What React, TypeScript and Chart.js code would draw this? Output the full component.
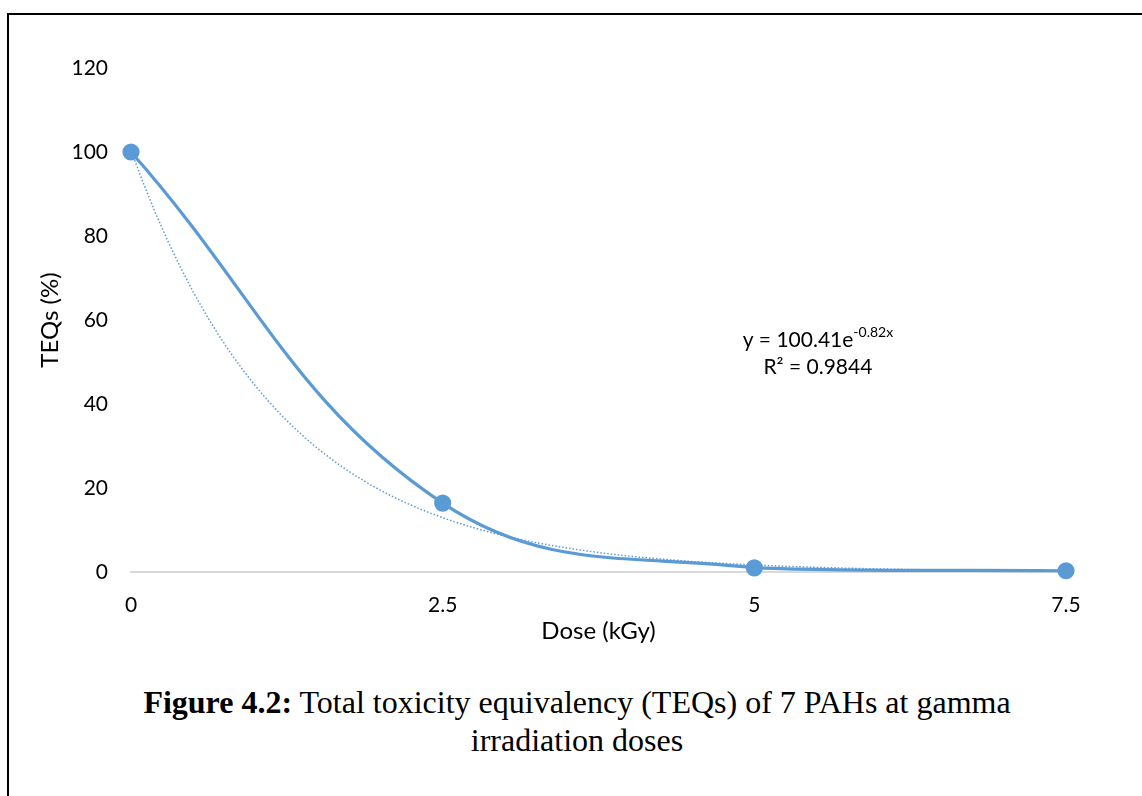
import React, { useEffect, useRef } from "react";
import { Chart, registerables } from "chart.js";

Chart.register(...registerables);

// Gamma irradiation dose (kGy) and measured total TEQs (%)
const doses: number[] = [0, 2.5, 5, 7.5];
const teqValues: number[] = [100, 16.4, 1.0, 0.3];
const xTickValues: number[] = [0, 2.5, 5, 7.5];
const yTickValues: number[] = [0, 20, 40, 60, 80, 100, 120];

// Exponential trendline y = A·e^(k·x), as stated on the chart
const trendA = 100.41;
const trendK = -0.82;
const trendR2 = 0.9844;
const trendSteps: number[] = Array.from({ length: 76 }, (_, i) => i / 10);

const BLUE = "#5b9bd5";
const FONT = "Lato, 'Open Sans', sans-serif";

const equationPlugin = {
  id: "equationLabel",
  afterDatasetsDraw(chart: any) {
    const { ctx, scales } = chart;
    const cx = scales.x.getPixelForValue(5.51);
    const y1 = scales.y.getPixelForValue(55.2);
    const y2 = scales.y.getPixelForValue(48.8);
    ctx.save();
    ctx.fillStyle = "#000";
    ctx.textBaseline = "middle";
    const main = `y = ${trendA}e`;
    const sup = `${trendK}x`;
    ctx.font = `21px ${FONT}`;
    const wMain = ctx.measureText(main).width;
    ctx.font = `14px ${FONT}`;
    const wSup = ctx.measureText(sup).width;
    const x0 = cx - (wMain + wSup) / 2;
    ctx.textAlign = "left";
    ctx.font = `21px ${FONT}`;
    ctx.fillText(main, x0, y1);
    ctx.font = `14px ${FONT}`;
    ctx.fillText(sup, x0 + wMain, y1 - 8);
    ctx.font = `21px ${FONT}`;
    ctx.textAlign = "center";
    ctx.fillText(`R² = ${trendR2}`, cx, y2);
    ctx.restore();
  },
};

function TeqChart() {
  const ref = useRef<HTMLCanvasElement | null>(null);
  useEffect(() => {
    if (!ref.current) return;
    const chart = new Chart(ref.current, {
      type: "scatter",
      data: {
        datasets: [
          {
            label: "TEQs",
            data: doses.map((d, i) => ({ x: d, y: teqValues[i] })),
            showLine: true,
            borderColor: BLUE,
            backgroundColor: BLUE,
            borderWidth: 3.2,
            pointRadius: 7,
            pointHoverRadius: 7,
            tension: 0.4,
            clip: false,
            order: 1,
          },
          {
            label: "Expon. trend",
            data: trendSteps.map((x) => ({ x, y: trendA * Math.exp(trendK * x) })),
            showLine: true,
            borderColor: BLUE,
            borderWidth: 1.5,
            borderDash: [1.5, 2],
            pointRadius: 0,
            tension: 0,
            order: 2,
          },
        ],
      },
      options: {
        animation: false,
        responsive: false,
        events: [],
        layout: { padding: { left: 0, right: 76, top: 68, bottom: 0 } },
        plugins: { legend: { display: false }, tooltip: { enabled: false } },
        scales: {
          x: {
            type: "linear",
            min: 0,
            max: 7.5,
            afterBuildTicks: (s: any) => {
              s.ticks = xTickValues.map((v) => ({ value: v }));
            },
            afterFit: (s: any) => {
              s.height = 80;
            },
            grid: { display: false, drawTicks: false },
            border: { display: true, color: "#d9d9d9", width: 2 },
            ticks: {
              padding: 21,
              color: "#000",
              font: { family: FONT, size: 21 },
              callback: (v: any) => String(v),
            },
            title: {
              display: true,
              text: "Dose (kGy)",
              color: "#000",
              font: { family: FONT, size: 24 },
              padding: { top: 0, bottom: 6 },
            },
          },
          y: {
            min: 0,
            max: 120,
            afterBuildTicks: (s: any) => {
              s.ticks = yTickValues.map((v) => ({ value: v }));
            },
            afterFit: (s: any) => {
              s.width = 131;
            },
            grid: { display: false, drawTicks: false },
            border: { display: false },
            ticks: {
              padding: 23,
              color: "#000",
              font: { family: FONT, size: 21 },
            },
            title: {
              display: true,
              text: "TEQs (%)",
              color: "#000",
              font: { family: FONT, size: 24 },
              padding: { top: 36, bottom: 0 },
            },
          },
        },
      },
      plugins: [equationPlugin],
    });
    return () => chart.destroy();
  }, []);
  return <canvas ref={ref} width={1142} height={652} style={{ display: "block" }} />;
}

export default function App() {
  return (
    <div style={{ position: "fixed", left: 0, top: 0, width: 1142, height: 796, background: "#fff", overflow: "hidden" }}>
      <div
        style={{
          position: "absolute",
          left: 7,
          top: 13,
          width: 1200,
          height: 900,
          borderLeft: "2px solid #000",
          borderTop: "2px solid #000",
        }}
      />
      <div style={{ position: "absolute", left: 0, top: 0 }}>
        <TeqChart />
      </div>
      <div
        style={{
          position: "absolute",
          left: 0,
          top: 683,
          width: 1154,
          textAlign: "center",
          fontFamily: "'Liberation Serif', 'Times New Roman', serif",
          fontSize: 32,
          lineHeight: "38px",
          color: "#000",
        }}
      >
        <div>
          <b>Figure 4.2:</b> Total toxicity equivalency (TEQs) of 7 PAHs at gamma
        </div>
        <div>irradiation doses</div>
      </div>
    </div>
  );
}
